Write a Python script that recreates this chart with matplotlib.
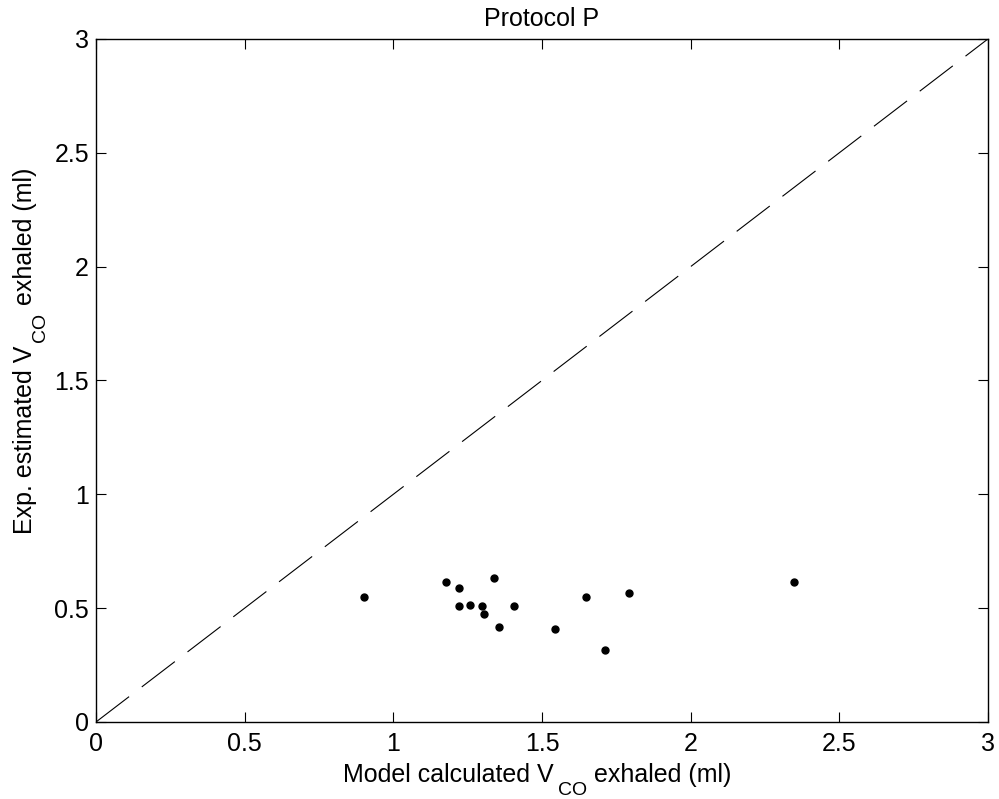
import matplotlib
matplotlib.use("Agg")
import matplotlib.pyplot as plt

x_model = [0.901, 1.176, 1.221, 1.340, 1.221, 1.259, 1.297, 1.304, 1.405, 1.354, 1.545, 1.647, 1.794, 1.711, 2.348]
y_exp = [0.550, 0.615, 0.590, 0.632, 0.508, 0.515, 0.508, 0.474, 0.508, 0.416, 0.407, 0.549, 0.565, 0.316, 0.615]
ticks = [0, 0.5, 1, 1.5, 2, 2.5, 3]
tick_labels = ["0", "0.5", "1", "1.5", "2", "2.5", "3"]
xlabel_parts = ["Model calculated V", "CO", " exhaled (ml)"]
ylabel_parts = ["Exp. estimated V", "CO", " exhaled (ml)"]

plt.rcParams['font.family'] = ['Liberation Sans', 'DejaVu Sans']
plt.rcParams['lines.scale_dashes'] = False

fig = plt.figure(figsize=(9.99, 7.99), dpi=100)
ax = fig.add_axes([0.0961, 0.0964, 0.893, 0.855])
ax.plot([0, 3], [0, 3], color='black', lw=0.8, dashes=(30, 11.5))
ax.plot(x_model, y_exp, 'o', color='black', markersize=5)
ax.set_xlim(0, 3)
ax.set_ylim(0, 3)
ax.set_xticks(ticks)
ax.set_xticklabels(tick_labels)
ax.set_yticks(ticks)
ax.set_yticklabels(tick_labels)
ax.tick_params(direction='in', top=True, right=True, labelsize=18, length=7, width=0.8)
ax.tick_params(axis='x', pad=7)
ax.tick_params(axis='y', pad=5)
for s in ax.spines.values():
    s.set_linewidth(1.0)
ax.set_title('Protocol P', fontsize=18, pad=9)

renderer = fig.canvas.get_renderer()
W, H = fig.bbox.width, fig.bbox.height
sizes = [18, 14, 18]
offsets = [0, -13, 0]
gaps = [4, 0, 0]

def place(parts, start, base, vertical):
    pos = start
    for txt, fs, off, gap in zip(parts, sizes, offsets, gaps):
        if vertical:
            t = fig.text((base - off) / W, pos / H, txt, fontsize=fs, rotation=90,
                         rotation_mode='anchor', ha='left', va='baseline')
            ext = t.get_window_extent(renderer)
            pos += ext.height + gap
        else:
            t = fig.text(pos / W, (base + off) / H, txt, fontsize=fs,
                         ha='left', va='baseline')
            ext = t.get_window_extent(renderer)
            pos += ext.width + gap

# x label: starts at pixel x=343, baseline 17 px above bottom
place(xlabel_parts, 343, 17, False)
# y label: starts 265 px above bottom, baseline at x=32
place(ylabel_parts, 265, 32, True)

fig.savefig('out.png', dpi=100)
